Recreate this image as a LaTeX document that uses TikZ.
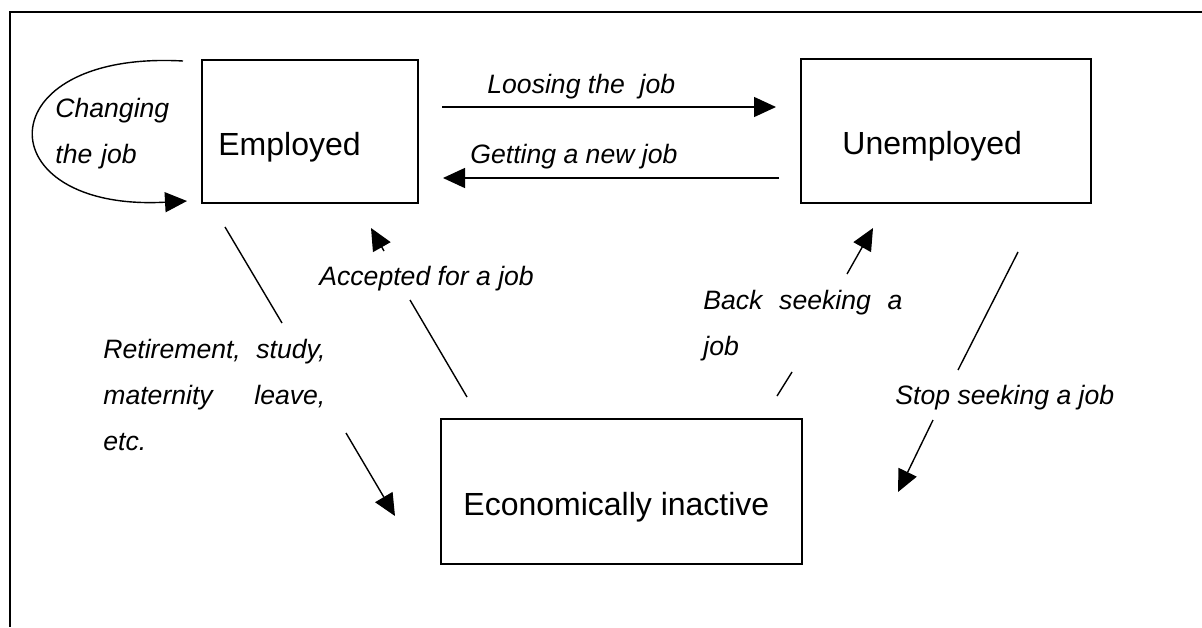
\documentclass[tikz,border=0pt]{standalone}
\usepackage{fontspec}
\setmainfont{Liberation Sans}
\usetikzlibrary{arrows.meta}
\begin{document}
\begin{tikzpicture}[x=0.5pt, y=-0.5pt,
  statebox/.style={draw, line width=1pt, rectangle, inner sep=0pt},
  boxtext/.style={anchor=base west, inner sep=0pt, font=\fontsize{16}{19}\selectfont},
  lbl/.style={anchor=base west, inner sep=0pt, font=\fontsize{13.3}{23}\selectfont\itshape},
  link/.style={line width=0.7pt},
  arr/.style={link, -{Triangle[length=11pt, width=10pt]}}
]
\useasboundingbox (0,0) rectangle (1202,627);

% open frame: top and left rules
\draw[line width=0.9pt] (1202,12) -- (10,12) -- (10,627);

% the three states
\node[statebox, minimum width=108pt, minimum height=71.5pt] (emp) at (310,131.5) {};
\node[statebox, minimum width=145pt, minimum height=72pt] (unemp) at (946,131) {};
\node[statebox, minimum width=180.5pt, minimum height=72.5pt] (inact) at (621.5,491.5) {};

\node[boxtext] (emptxt) at (218,155) {Employed};
\node[boxtext] (unemptxt) at (842,154) {Unemployed};
\node[boxtext] (inacttxt) at (463,515) {Economically inactive};

% transition labels
\node[lbl, text width=60pt, align=left] (changelbl) at (55,117) {Changing\\the job};
\node[lbl] (loselbl) at (487,93) {Loosing the~ job};
\node[lbl] (getlbl) at (470,163) {Getting a new job};
\node[lbl] (acclbl) at (319,285) {Accepted for a job};
\node[lbl, text width=111pt, align=justify] (retlbl) at (103,358)
  {\tolerance=10000 \hyphenpenalty=10000 Retirement, study, maternity leave, etc.};
\node[lbl, text width=99.5pt, align=justify] (backlbl) at (703,309)
  {\tolerance=10000 \hyphenpenalty=10000 Back seeking a job};
\node[lbl] (stoplbl) at (895,404) {Stop seeking a job};

% end points of the diagonal transitions, interrupted by their labels
\coordinate (r1) at (225,227);  \coordinate (r2) at (282,323);
\coordinate (r3) at (346,433);  \coordinate (r4) at (395,516);
\coordinate (a1) at (467,397);  \coordinate (a2) at (410,300);
\coordinate (a3) at (384,251);  \coordinate (a4) at (371,228);
\coordinate (b1) at (777,396);  \coordinate (b2) at (792,372);
\coordinate (b3) at (847,274);  \coordinate (b4) at (873,228);
\coordinate (s1) at (1018,252); \coordinate (s2) at (958,370);
\coordinate (s3) at (933,420);  \coordinate (s4) at (898,492);
\coordinate (c1) at (183,61);   \coordinate (c2) at (187,201);

% changing the job: loop back into Employed
\draw[arr] (c1) .. controls (-15,50) and (-15,212) .. (c2);

% between Employed and Unemployed
\draw[arr, shorten <=11.5pt, shorten >=12pt]
  ([yshift=12.25pt]emp.east) -- ([yshift=12.25pt]emp.east -| unemp.west);
\draw[arr, shorten <=10.5pt, shorten >=12pt]
  ([yshift=-23.25pt]emp.east -| unemp.west) -- ([yshift=-23.25pt]emp.east);

% Employed -> Economically inactive
\draw[link] (r1) -- (r2);
\draw[arr] (r3) -- (r4);

% Economically inactive -> Employed
\draw[link] (a1) -- (a2);
\draw[arr] (a3) -- (a4);

% Economically inactive -> Unemployed
\draw[link] (b1) -- (b2);
\draw[arr] (b3) -- (b4);

% Unemployed -> Economically inactive
\draw[link] (s1) -- (s2);
\draw[arr] (s3) -- (s4);
\end{tikzpicture}
\end{document}
